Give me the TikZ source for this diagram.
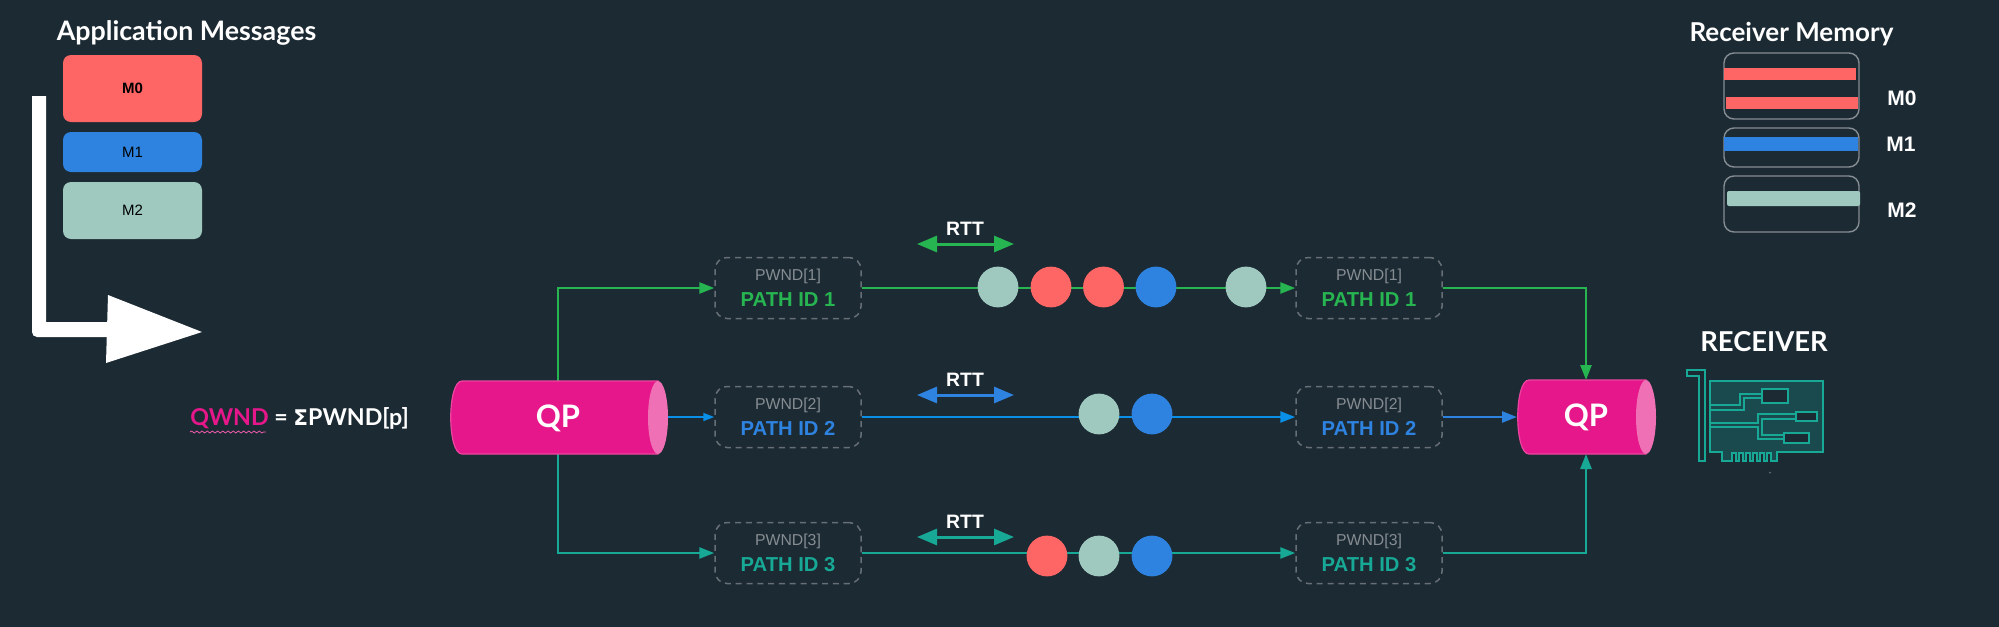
\documentclass[tikz,border=0pt]{standalone}
\usepackage{fontspec}
\setmainfont{Liberation Sans}
\newfontfamily\headfont{Lato}
\usetikzlibrary{arrows.meta,decorations.pathmorphing}
\definecolor{bg}{HTML}{1C2A33}
\definecolor{pk}{HTML}{E6178A}
\definecolor{pkl}{HTML}{F070B5}
\definecolor{red1}{HTML}{FE6565}
\definecolor{blue1}{HTML}{2E83E0}
\definecolor{blue2}{HTML}{0A8FE8}
\definecolor{sage}{HTML}{9FC9BF}
\definecolor{grn}{HTML}{27B552}
\definecolor{teal1}{HTML}{17A896}
\definecolor{gray1}{HTML}{676F76}
\definecolor{gray2}{HTML}{868D92}
\definecolor{nicfill}{HTML}{1A4A4D}
\definecolor{nicline}{HTML}{17A896}
\tikzset{
 x=0.5pt,y=-0.5pt,
 msg/.style={draw=none,rounded corners=4pt,inner sep=0pt,minimum width=69.5pt,text=black,font=\fontsize{7.5}{8}\selectfont},
 head/.style={text=white,font=\headfont\bfseries\fontsize{13.4}{15}\selectfont,inner sep=0pt},
 pathbox/.style={draw=gray1,dashed,dash pattern=on 3pt off 2.4pt,line width=0.75pt,rounded corners=6pt,minimum width=73pt,minimum height=30.5pt,inner sep=0pt,fill=bg,align=center},
 pkt/.style={circle,minimum size=20.4pt,inner sep=0pt,draw=none},
 conn/.style={line width=1.25pt,-{Triangle[length=7.5pt,width=5.5pt]}},
 connthin/.style={line width=0.8pt,-{Triangle[length=5.5pt,width=4pt]}},
 rtt/.style={line width=1.5pt,{Triangle[length=10pt,width=8pt]}-{Triangle[length=10pt,width=8pt]}},
 rttlab/.style={text=white,font=\bfseries\fontsize{9.7}{11}\selectfont,inner sep=0pt},
 memframe/.style={draw=gray2,line width=0.7pt,rounded corners=5pt,fill=none},
 memlab/.style={text=white,font=\bfseries\fontsize{10.5}{12}\selectfont,inner sep=0pt},
 qplab/.style={text=white,font=\headfont\bfseries\fontsize{15.5}{17}\selectfont,inner sep=0pt},
 nic/.style={draw=nicline,line width=1.05pt,line join=miter},
}
\newcommand{\pwbox}[5]{\node[pathbox] (#1) at (#2,#3) {\textcolor{gray2}{\fontsize{7.9}{9}\selectfont PWND[#4]}\\[1pt]\textcolor{#5}{\bfseries\fontsize{10.1}{11.5}\selectfont PATH ID #4}};}
\begin{document}
\begin{tikzpicture}
\useasboundingbox (0,0) rectangle (1999,627);
\fill[bg] (0,0) rectangle (1999,627);

% application messages
\node[head,anchor=center] (apptitle) at (186.5,33) {Application Messages};
\node[msg,fill=red1,minimum height=33.5pt,font=\bfseries\fontsize{7.5}{8}\selectfont] (m0) at (132.5,88.5) {M0};
\node[msg,fill=blue1,minimum height=20pt] (m1) at (132.5,152) {M1};
\node[msg,fill=sage,minimum height=28.5pt] (m2) at (132.5,210.5) {M2};

% big white arrow
\fill[white] (32,96) -- (46,96) -- (46,322) -- (108,322) -- (108,337) [rounded corners=2.5pt] -- (32,337) [sharp corners] -- cycle;
\fill[white] (108,295) -- (202,332) -- (106,363) -- cycle;

% QWND
\node[anchor=west,inner sep=0pt,font=\headfont\bfseries\fontsize{11.6}{13}\selectfont] (qw) at (190,418) {\textcolor{pk}{QWND}\textcolor{white}{\ =\ \fontspec{DejaVu Sans}\bfseries\fontsize{10.8}{13}\selectfont Σ}\textcolor{white}{PWND[p]}};
\coordinate (wa) at (190,432);
\coordinate (wb) at (266,432);
\draw[pk!70!white,line width=0.4pt,decorate,decoration={snake,amplitude=0.5pt,segment length=2.6pt}] (wa) -- (wb);

% path boxes
\pwbox{l1}{788}{288}{1}{grn}
\pwbox{l2}{788}{417}{2}{blue1}
\pwbox{l3}{788}{553}{3}{teal1}
\pwbox{r1}{1369}{288}{1}{grn}
\pwbox{r2}{1369}{417}{2}{blue1}
\pwbox{r3}{1369}{553}{3}{teal1}

% coordinates
\coordinate (qlT) at (558,381);
\coordinate (qlB) at (558,454);
\coordinate (qlR) at (667,417);
\coordinate (g1) at (558,288);
\coordinate (t1) at (558,553);
\coordinate (g2) at (1586,288);
\coordinate (t2) at (1586,553);
\coordinate (qrT) at (1586,380);
\coordinate (qrB) at (1586,454);
\coordinate (qrL) at (1517,417);

% connectors
\draw[conn,grn] (qlT) -- (g1) -- (l1.west);
\draw[conn,teal1] (qlB) -- (t1) -- (l3.west);
\draw[connthin,blue2] (qlR) -- (l2.west);
\draw[conn,grn] (l1.east) -- (r1.west);
\draw[conn,blue2] (l2.east) -- (r2.west);
\draw[conn,teal1] (l3.east) -- (r3.west);
\draw[conn,grn] (r1.east) -- (g2) -- (qrT);
\draw[conn,blue1] (r2.east) -- (qrL);
\draw[conn,teal1] (r3.east) -- (t2) -- (qrB);

% QP shapes
\draw[pk!80!white,fill=pk,line width=0.6pt] (658,381) -- (462,381) .. controls (447,381) and (447,454) .. (462,454) -- (658,454) -- cycle;
\fill[pkl] (658,417.5) ellipse [x radius=10,y radius=36.5];
\node[qplab] (qpl) at (558,418) {QP};
\draw[pk!80!white,fill=pk,line width=0.6pt] (1646,380) -- (1529,380) .. controls (1514,380) and (1514,454) .. (1529,454) -- (1646,454) -- cycle;
\fill[pkl] (1646,417) ellipse [x radius=10,y radius=37];
\node[qplab] (qpr) at (1586,417) {QP};

% packets
\node[pkt,fill=sage] (a1) at (998,287) {};
\node[pkt,fill=red1] (a2) at (1051,287) {};
\node[pkt,fill=red1] (a3) at (1103.5,287) {};
\node[pkt,fill=blue1] (a4) at (1156,287) {};
\node[pkt,fill=sage] (a5) at (1246,287) {};
\node[pkt,fill=sage] (b1) at (1099,414) {};
\node[pkt,fill=blue1] (b2) at (1152,414) {};
\node[pkt,fill=red1] (c1) at (1047,556) {};
\node[pkt,fill=sage] (c2) at (1099,556) {};
\node[pkt,fill=blue1] (c3) at (1152,556) {};

% RTT
\coordinate (ra1) at (917,244); \coordinate (ra2) at (1014,244);
\coordinate (rb1) at (917,395); \coordinate (rb2) at (1014,395);
\coordinate (rc1) at (917,537); \coordinate (rc2) at (1014,537);
\draw[rtt,grn] (ra1) -- (ra2);
\draw[rtt,blue1] (rb1) -- (rb2);
\draw[rtt,teal1] (rc1) -- (rc2);
\node[rttlab] (rta) at (965,229) {RTT};
\node[rttlab] (rtb) at (965,380) {RTT};
\node[rttlab] (rtc) at (965,522) {RTT};

% receiver memory
\node[head,font=\headfont\bfseries\fontsize{13}{15}\selectfont] (memtitle) at (1791.5,34) {Receiver Memory};
\draw[memframe] (1724,53) rectangle (1859,119);
\draw[memframe] (1724,128) rectangle (1859,167);
\draw[memframe] (1724,176) rectangle (1859,232);
\fill[red1] (1724,68) rectangle (1856,80);
\fill[red1] (1726,97) rectangle (1858,109);
\fill[blue1] (1724,137) rectangle (1858,151);
\fill[sage,rounded corners=1pt] (1727,191) rectangle (1860,206);
\node[memlab] (mm0) at (1902,98) {M0};
\node[memlab] (mm1) at (1901,144) {M1};
\node[memlab] (mm2) at (1902,210) {M2};

% receiver
\node[text=white,font=\headfont\bfseries\fontsize{13.7}{15}\selectfont,inner sep=0pt] (recv) at (1764,342) {RECEIVER};
\draw[nic] (1687,370) -- (1705,370) -- (1705,461) -- (1699,461) -- (1699,376) -- (1687,376) -- cycle;
\draw[nic,fill=nicfill] (1710,381.3) -- (1822.7,381.3) -- (1822.7,452) -- (1776.7,452) -- (1776.7,461)
 -- (1771,461) -- (1771,453) -- (1767,453) -- (1767,461) -- (1764,461) -- (1764,453) -- (1760,453) -- (1760,461) -- (1757,461) -- (1757,453) -- (1753,453) -- (1753,461) -- (1750,461) -- (1750,453) -- (1746,453) -- (1746,461) -- (1743,461) -- (1743,453) -- (1739,453) -- (1739,461) -- (1736,461) -- (1736,453) -- (1732,453) -- (1732,461) -- (1722.3,461) -- (1722.3,452) -- (1710,452) -- cycle;
\draw[nic] (1710,405.3) -- (1740,405.3) -- (1740,394.3) -- (1761.7,394.3);
\draw[nic] (1710,409.7) -- (1744.3,409.7) -- (1744.3,398) -- (1761.7,398);
\draw[nic] (1710,423) -- (1757.7,423) -- (1757.7,414.3) -- (1795.7,414.3);
\draw[nic] (1710,427.3) -- (1757.7,427.3) -- (1757.7,439.3) -- (1784,439.3);
\draw[nic] (1795.7,418.7) -- (1762.3,418.7) -- (1762.3,434.7) -- (1784,434.7);
\draw[nic,fill=bg] (1761.7,388.7) rectangle (1788.3,402.7);
\draw[nic,fill=bg] (1795.7,412) rectangle (1816.7,421.3);
\draw[nic,fill=bg] (1784,432.7) rectangle (1809.3,442.7);
\fill[gray1] (1770,472.7) circle [radius=1];
\end{tikzpicture}
\end{document}
